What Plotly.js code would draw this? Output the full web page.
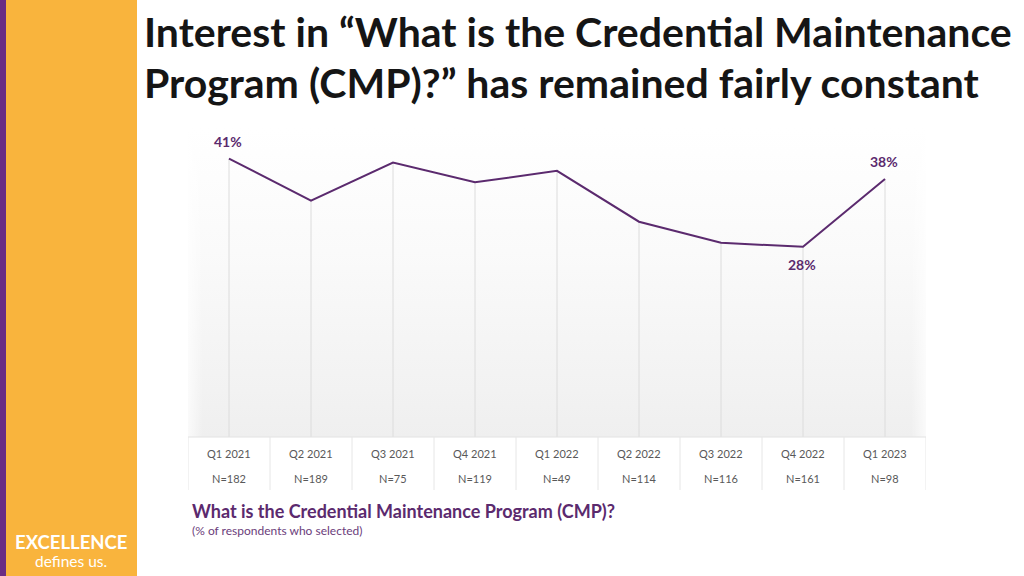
<!DOCTYPE html>
<html>
<head>
<meta charset="utf-8">
<script src="https://cdn.plot.ly/plotly-3.0.1.min.js"></script>
<style>
  html, body { margin:0; padding:0; background:#ffffff; }
  #wrap { position:relative; width:1024px; height:576px; overflow:hidden; }
  #bg { position:absolute; left:188px; top:128px; width:738px; height:309px;
        background: linear-gradient(to bottom, #ffffff 0%, #fafafa 40%, #f2f2f2 85%, #efefef 100%); }
  #bgside { position:absolute; left:188px; top:128px; width:738px; height:309px;
        background: linear-gradient(to right, rgba(255,255,255,0.7) 0%, rgba(255,255,255,0) 2%, rgba(255,255,255,0) 98%, rgba(255,255,255,0.7) 100%); }
  #chart { position:absolute; left:0; top:0; width:1024px; height:576px; }
</style>
</head>
<body>
<div id="wrap">
  <div id="bg"></div>
  <div id="bgside"></div>
  <div id="chart"></div>
</div>
<script>
const quarters = ["Q1 2021","Q2 2021","Q3 2021","Q4 2021","Q1 2022","Q2 2022","Q3 2022","Q4 2022","Q1 2023"];
const sampleSizes = ["N=182","N=189","N=75","N=119","N=49","N=114","N=116","N=161","N=98"];
const interestPct = [41, 34.8, 40.4, 37.5, 39.2, 31.7, 28.6, 28, 38];
const labelledPoints = [0, 7, 8];
const labelBelow = [7];
const titleLines = ["Interest in “What is the Credential Maintenance", "Program (CMP)?” has remained fairly constant"];

const purple = "#5b2a6e";
const W = 1024, H = 576;
const L = 188, R = 926, T = 128, B = 437;
const px2x = p => (p - L) / (R - L);
const py2y = p => (B - p) / (B - T);
const idx = quarters.map((_, i) => i);

// drop lines from each point to the baseline
const dropX = [], dropY = [];
idx.forEach(i => { dropX.push(i, i, null); dropY.push(0, interestPct[i], null); });

const traces = [
  { x: dropX, y: dropY, mode: "lines", line: {color: "#dcdcdc", width: 1}, hoverinfo: "skip", showlegend: false },
  { x: idx, y: interestPct, mode: "lines", line: {color: purple, width: 2}, cliponaxis: false, showlegend: false }
];

const shapes = [];
shapes.push({type: "line", xref: "paper", yref: "paper", x0: 0, x1: 1, y0: 0, y1: 0, line: {color: "#e2e2e2", width: 1}});
for (let i = -1; i < quarters.length; i++) {
  shapes.push({type: "line", xref: "x", yref: "paper", x0: i + 0.5, x1: i + 0.5, y0: 0, y1: py2y(490), line: {color: "#e6e6e6", width: 1}});
}
shapes.push({type: "rect", xref: "paper", yref: "paper", x0: px2x(0), x1: px2x(137), y0: py2y(0), y1: py2y(576), fillcolor: "#f9b43d", line: {width: 0}, layer: "below"});
shapes.push({type: "rect", xref: "paper", yref: "paper", x0: px2x(0), x1: px2x(6), y0: py2y(0), y1: py2y(576), fillcolor: "#6a2c84", line: {width: 0}, layer: "below"});

const annotations = [];
labelledPoints.forEach(i => {
  const below = labelBelow.includes(i);
  annotations.push({x: i, y: interestPct[i], xref: "x", yref: "y", text: "<b>" + Math.round(interestPct[i]) + "%</b>",
    showarrow: false, xanchor: "center", yanchor: "middle", yshift: below ? -18 : 17, xshift: -1,
    font: {family: "Lato, sans-serif", size: 14, color: purple}});
});
idx.forEach(i => {
  annotations.push({x: i, y: py2y(454), xref: "x", yref: "paper", text: quarters[i], showarrow: false,
    font: {family: "Lato, sans-serif", size: 11, color: "#595959"}, xanchor: "center", yanchor: "middle"});
  annotations.push({x: i, y: py2y(478), xref: "x", yref: "paper", text: sampleSizes[i], showarrow: false,
    font: {family: "Lato, sans-serif", size: 11, color: "#595959"}, xanchor: "center", yanchor: "middle"});
});
titleLines.forEach((t, k) => {
  annotations.push({x: px2x(142), y: py2y(31 + 51 * k), xref: "paper", yref: "paper", xanchor: "left", yanchor: "middle",
    text: "<b>" + t + "</b>", showarrow: false, font: {family: "Lato, sans-serif", size: 41, color: "#151515"}});
});
annotations.push({x: px2x(190), y: py2y(511), xref: "paper", yref: "paper", xanchor: "left", yanchor: "middle",
  text: "<b>What is the Credential Maintenance Program (CMP)?</b>", showarrow: false,
  font: {family: "Lato, sans-serif", size: 18, color: purple}});
annotations.push({x: px2x(190), y: py2y(530), xref: "paper", yref: "paper", xanchor: "left", yanchor: "middle",
  text: "(% of respondents who selected)", showarrow: false,
  font: {family: "Lato, sans-serif", size: 12, color: "#6b3d7b"}});
annotations.push({x: px2x(71), y: py2y(542), xref: "paper", yref: "paper", xanchor: "center", yanchor: "middle",
  text: "<b>EXCELLENCE</b>", showarrow: false, font: {family: "Lato, sans-serif", size: 18.5, color: "#ffffff"}});
annotations.push({x: px2x(71), y: py2y(561), xref: "paper", yref: "paper", xanchor: "center", yanchor: "middle",
  text: "defines us.", showarrow: false, font: {family: "Lato, sans-serif", size: 15.5, color: "#ffffff"}});

const layout = {
  width: W, height: H,
  margin: {l: L, r: W - R, t: T, b: H - B, pad: 0},
  paper_bgcolor: "rgba(0,0,0,0)", plot_bgcolor: "rgba(0,0,0,0)",
  xaxis: {range: [-0.5, 8.5], showgrid: false, zeroline: false, showticklabels: false, showline: false, ticks: "", fixedrange: true},
  yaxis: {range: [0, 45.5], showgrid: false, zeroline: false, showticklabels: false, showline: false, ticks: "", fixedrange: true},
  shapes: shapes, annotations: annotations, showlegend: false
};

Plotly.newPlot("chart", traces, layout, {displayModeBar: false, staticPlot: true});
</script>
</body>
</html>
